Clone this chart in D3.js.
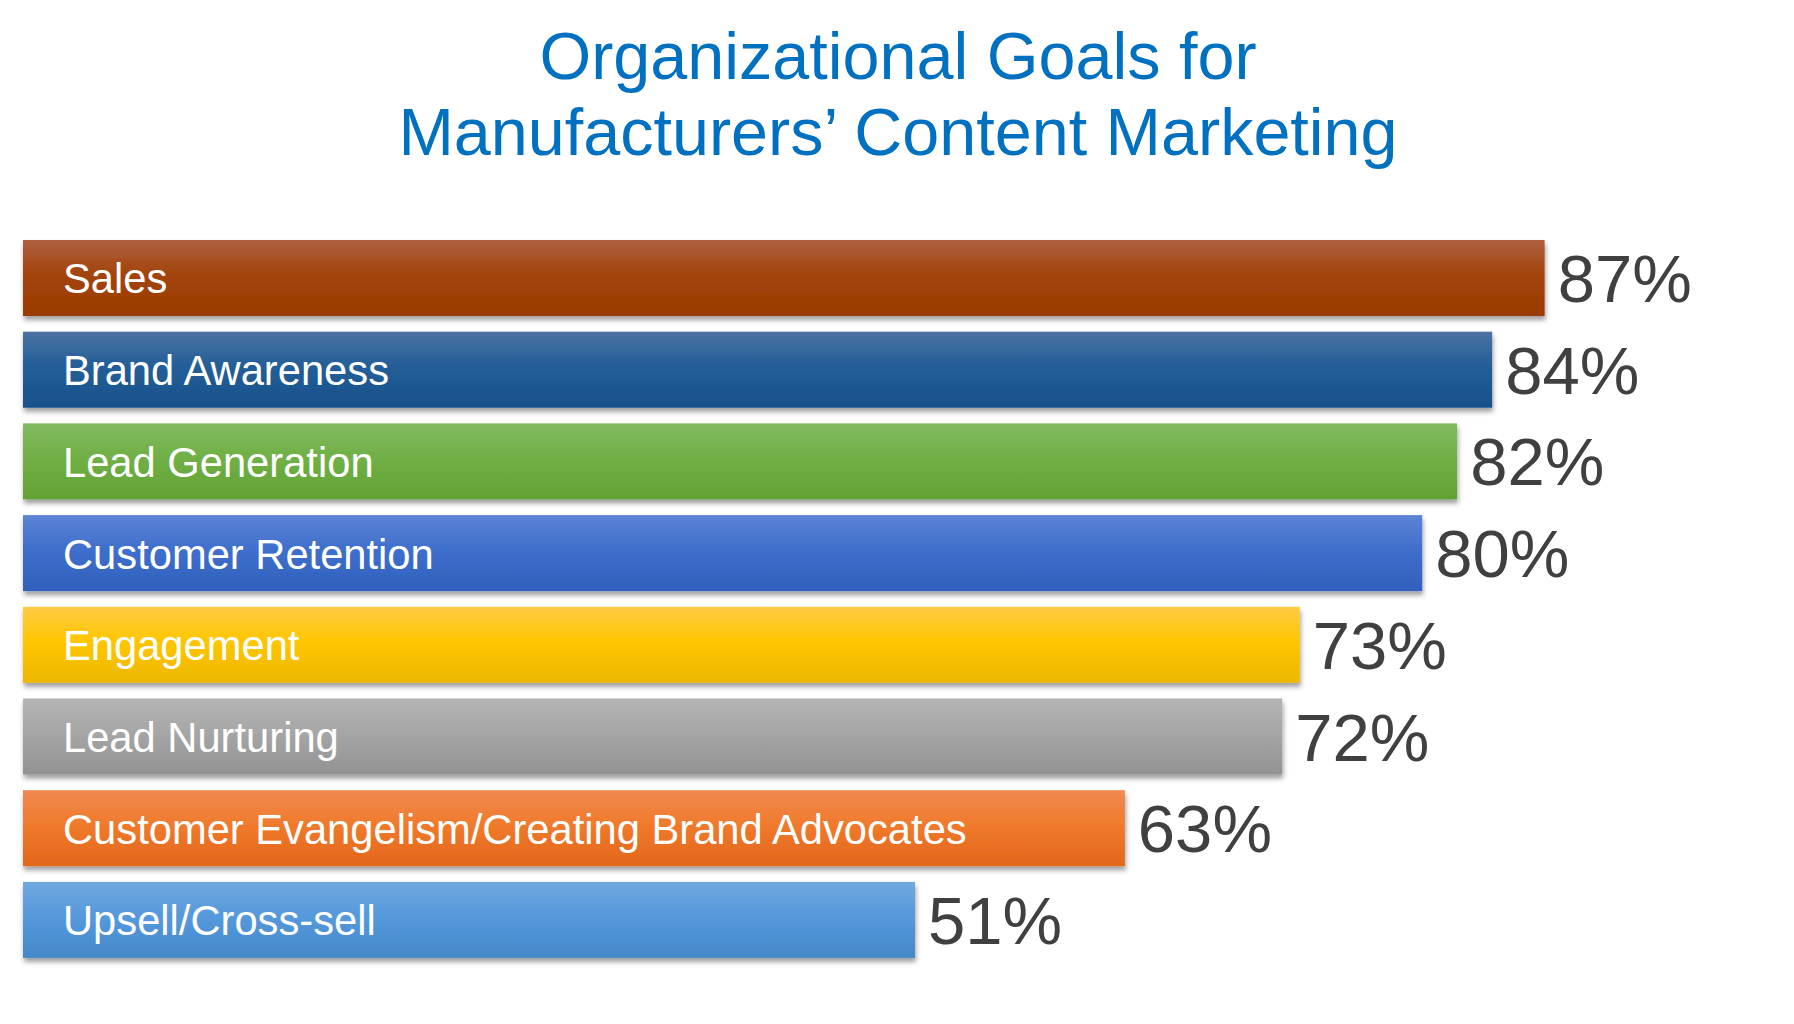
<!DOCTYPE html>
<html>
<head>
<meta charset="utf-8">
<script src="https://cdn.jsdelivr.net/npm/d3@7"></script>
<style>
    body { margin: 0; background: #ffffff; }
    svg { display: block; font-family: "Liberation Sans", Arial, sans-serif; }
</style>
</head>
<body>
<svg id="chart" width="1794" height="1024"></svg>
<script>
// Chart data
var titleLines = ["Organizational Goals for", "Manufacturers\u2019 Content Marketing"];
var categories = [
    "Sales",
    "Brand Awareness",
    "Lead Generation",
    "Customer Retention",
    "Engagement",
    "Lead Nurturing",
    "Customer Evangelism/Creating Brand Advocates",
    "Upsell/Cross-sell"
];
var values = [87, 84, 82, 80, 73, 72, 63, 51];

// Gradient stops per bar: top, middle, bottom
var barColors = [
    ["#ae6040", "#a3440c", "#9a3a00"],
    ["#4a72a2", "#245e98", "#18528a"],
    ["#82ba60", "#70b046", "#62a234"],
    ["#5c84d4", "#3f6fcc", "#3060bc"],
    ["#ffcb45", "#ffc600", "#ebb800"],
    ["#b4b4b4", "#a6a6a6", "#929292"],
    ["#f08a52", "#f07a2c", "#e2661a"],
    ["#72a8de", "#5599dc", "#4488ca"]
];

var svg = d3.select("#chart"),
    width = +svg.attr("width"),
    height = +svg.attr("height");

var data = categories.map(function (c, i) {
    return { name: c, value: values[i], colors: barColors[i], i: i };
});

// Scales
var x = d3.scaleLinear().domain([0, 100]).range([23, 1772]);
var y = d3.scaleBand()
    .domain(categories)
    .range([224.3, 973.6])
    .padding(0.171);

var defs = svg.append("defs");

// Soft shadow under each bar
var shadow = defs.append("filter")
    .attr("id", "barShadow")
    .attr("x", "-5%").attr("y", "-20%")
    .attr("width", "110%").attr("height", "150%");
shadow.append("feDropShadow")
    .attr("dx", 1).attr("dy", 4)
    .attr("stdDeviation", 2.5)
    .attr("flood-color", "#000")
    .attr("flood-opacity", 0.38);

// One vertical gradient per bar
data.forEach(function (d) {
    var g = defs.append("linearGradient")
        .attr("id", "grad" + d.i)
        .attr("x1", 0).attr("y1", 0)
        .attr("x2", 0).attr("y2", 1);
    g.append("stop").attr("offset", "0%").attr("stop-color", d.colors[0]);
    g.append("stop").attr("offset", "45%").attr("stop-color", d.colors[1]);
    g.append("stop").attr("offset", "100%").attr("stop-color", d.colors[2]);
});

// Title
svg.append("g").attr("class", "title")
    .selectAll("text")
    .data(titleLines)
    .join("text")
    .attr("x", width / 2 + 1)
    .attr("y", function (d, i) { return 79 + i * 76; })
    .attr("text-anchor", "middle")
    .attr("font-size", 66.5)
    .attr("fill", "#0070c0")
    .text(function (d) { return d; });

// Bars
var bars = svg.append("g").attr("class", "bars");

bars.selectAll("rect")
    .data(data)
    .join("rect")
    .attr("x", x(0))
    .attr("y", function (d) { return y(d.name); })
    .attr("width", function (d) { return x(d.value) - x(0); })
    .attr("height", y.bandwidth())
    .attr("fill", function (d) { return "url(#grad" + d.i + ")"; })
    .attr("filter", "url(#barShadow)");

// Category labels inside the bars
svg.append("g").attr("class", "labels")
    .selectAll("text")
    .data(data)
    .join("text")
    .attr("x", x(0) + 40)
    .attr("y", function (d) { return y(d.name) + y.bandwidth() / 2 + 15.5; })
    .attr("font-size", 41.7)
    .attr("fill", "#ffffff")
    .text(function (d) { return d.name; });

// Percent labels at the bar ends
svg.append("g").attr("class", "values")
    .selectAll("text")
    .data(data)
    .join("text")
    .attr("x", function (d) { return x(d.value) + 13; })
    .attr("y", function (d) { return y(d.name) + y.bandwidth() / 2 + 24; })
    .attr("font-size", 67)
    .attr("fill", "#404040")
    .text(function (d) { return d.value + "%"; });
</script>
</body>
</html>
